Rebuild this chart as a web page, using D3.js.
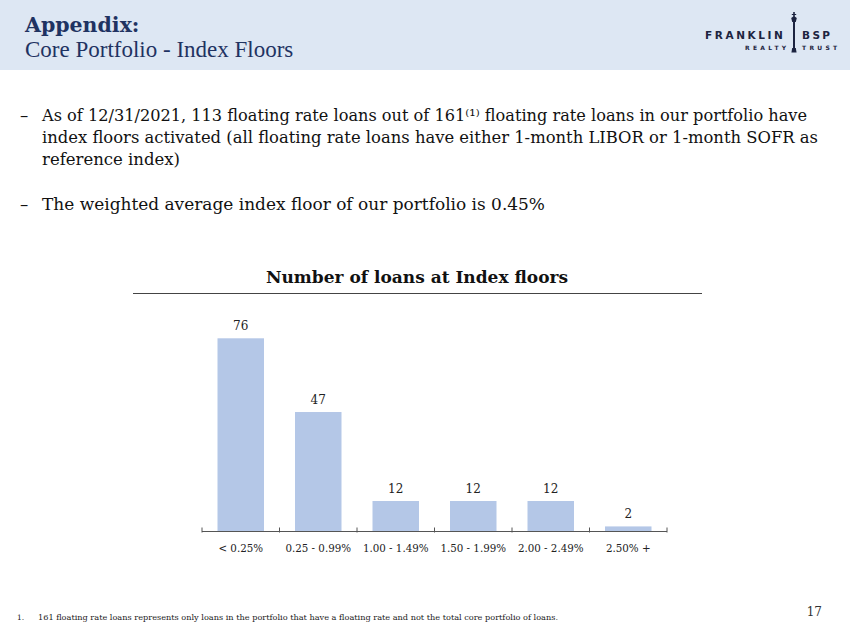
<!DOCTYPE html>
<html>
<head>
<meta charset="utf-8">
<script src="https://cdn.jsdelivr.net/npm/d3@7"></script>
<style>
  html, body { margin: 0; padding: 0; background: #fff; }
  svg { display: block; }
</style>
</head>
<body>
<div id="slide"></div>
<script>
// Chart data
const categories = ["< 0.25%", "0.25 - 0.99%", "1.00 - 1.49%", "1.50 - 1.99%", "2.00 - 2.49%", "2.50% +"];
const loanCounts = [76, 47, 12, 12, 12, 2];

// Slide texts
const bullet1 = [
    "As of 12/31/2021, 113 floating rate loans out of 161\u207D\u00B9\u207E floating rate loans in our portfolio have",
    "index floors activated (all floating rate loans have either 1-month LIBOR or 1-month SOFR as",
    "reference index)"
];
const bullet2 = "The weighted average index floor of our portfolio is 0.45%";
const footnote = "161 floating rate loans represents only loans in the portfolio that have a floating rate and not the total core portfolio of loans.";

const W = 850, H = 638;
const serif = "'DejaVu Serif', 'Liberation Serif', serif";
const navy = "#1f3362";

const svg = d3.select("#slide")
    .append("svg")
    .attr("width", W)
    .attr("height", H);

// Header band
svg.append("rect").attr("x", 0).attr("y", 0).attr("width", W).attr("height", 70).attr("fill", "#dde7f3");
svg.append("text").attr("x", 25).attr("y", 32).text("Appendix:")
    .style("font-family", serif).style("font-weight", "bold").style("font-size", "20.5px").attr("fill", navy);
svg.append("text").attr("x", 25).attr("y", 57).text("Core Portfolio - Index Floors")
    .style("font-family", "'Liberation Serif', serif").style("font-size", "23px").attr("fill", navy);

// Logo
const sans = "'DejaVu Sans', sans-serif";
const logo = svg.append("g").attr("fill", "#1c2440").style("font-family", sans).style("font-weight", "bold");
logo.append("text").attr("x", 705).attr("y", 39).text("FRANKLIN")
    .style("font-size", "10.5px").style("letter-spacing", "2.6px");
logo.append("text").attr("x", 802).attr("y", 39).text("BSP")
    .style("font-size", "10.5px").style("letter-spacing", "2.4px");
logo.append("text").attr("x", 745).attr("y", 50).text("REALTY")
    .style("font-size", "6px").style("letter-spacing", "3.3px");
logo.append("text").attr("x", 802).attr("y", 50).text("TRUST")
    .style("font-size", "6px").style("letter-spacing", "3.3px");
// lamp post
logo.append("path").attr("d", "M793.2,12 h1.6 v2 h1.4 v1 h-1.4 v1.5 l2,1.5 l-1,4 h-3.6 l-1,-4 l2,-1.5 v-1.5 h-1.4 v-1 h1.4 z");
logo.append("rect").attr("x", 793).attr("y", 22).attr("width", 2).attr("height", 26);
logo.append("path").attr("d", "M792.2,48 h3.6 l0.8,4.5 h-5.2 z");

// Bullets
const body = svg.append("g").style("font-family", serif).style("font-size", "16.5px").attr("fill", "#111");
const lineY = [121, 143, 165];
const lineW = [765, 776, null];
body.append("text").attr("x", 20).attr("y", lineY[0]).text("\u2013");
bullet1.forEach((t, i) => {
    const txt = body.append("text").attr("x", 42).attr("y", lineY[i]).text(t);
    if (lineW[i]) txt.attr("textLength", lineW[i]).attr("lengthAdjust", "spacingAndGlyphs");
});
body.append("text").attr("x", 20).attr("y", 210).text("\u2013");
body.append("text").attr("x", 42).attr("y", 210).attr("textLength", 503).attr("lengthAdjust", "spacingAndGlyphs").text(bullet2);

// Chart title
svg.append("text").attr("x", 417).attr("y", 283).attr("text-anchor", "middle")
    .text("Number of loans at Index floors")
    .style("font-family", serif).style("font-weight", "bold").style("font-size", "17px").attr("fill", "#111");
svg.append("line").attr("x1", 133).attr("x2", 702).attr("y1", 293.5).attr("y2", 293.5)
    .attr("stroke", "#444").attr("stroke-width", 1.2);

// Bar chart
const x = d3.scaleBand()
    .domain(categories)
    .range([202, 667])
    .paddingInner(0.4)
    .paddingOuter(0.2);

const y = d3.scaleLinear()
    .domain([0, 76])
    .range([531.5, 338.3]);

svg.selectAll(".bar")
    .data(loanCounts)
    .enter().append("rect")
    .attr("class", "bar")
    .attr("x", (d, i) => x(categories[i]))
    .attr("y", d => y(d))
    .attr("width", x.bandwidth())
    .attr("height", d => y(0) - y(d))
    .attr("fill", "#b4c7e7");

svg.selectAll(".val")
    .data(loanCounts)
    .enter().append("text")
    .attr("class", "val")
    .attr("x", (d, i) => x(categories[i]) + x.bandwidth() / 2)
    .attr("y", d => y(d) - 8)
    .attr("text-anchor", "middle")
    .text(d => d)
    .style("font-family", serif).style("font-size", "12px").attr("fill", "#222");

// X axis: line with ticks between categories, labels below
const axis = svg.append("g");
axis.append("line").attr("x1", x.range()[0]).attr("x2", x.range()[1])
    .attr("y1", y(0)).attr("y2", y(0)).attr("stroke", "#555").attr("stroke-width", 1.2);
const tickPos = categories.map(c => x(c) - x.step() * x.paddingInner() / 2 - (c === categories[0] ? x.step() * (x.paddingOuter() - x.paddingInner() / 2) : 0));
tickPos.push(x.range()[1]);
axis.selectAll(".tick")
    .data(tickPos)
    .enter().append("line")
    .attr("x1", d => d).attr("x2", d => d)
    .attr("y1", y(0) - 4).attr("y2", y(0) + 1)
    .attr("stroke", "#555").attr("stroke-width", 1);
axis.selectAll(".cat")
    .data(categories)
    .enter().append("text")
    .attr("x", d => x(d) + x.bandwidth() / 2)
    .attr("y", 552)
    .attr("text-anchor", "middle")
    .text(d => d)
    .style("font-family", serif).style("font-size", "10.3px").attr("fill", "#222");

// Footnote and page number
svg.append("text").attr("x", 17).attr("y", 620).text("1.")
    .style("font-family", serif).style("font-size", "7.5px").attr("fill", "#222");
svg.append("text").attr("x", 38).attr("y", 620).attr("textLength", 520).attr("lengthAdjust", "spacingAndGlyphs")
    .text(footnote)
    .style("font-family", serif).style("font-size", "8px").attr("fill", "#222");
svg.append("text").attr("x", 822).attr("y", 616).attr("text-anchor", "end").text("17")
    .style("font-family", serif).style("font-size", "12px").attr("fill", "#333");
</script>
</body>
</html>
